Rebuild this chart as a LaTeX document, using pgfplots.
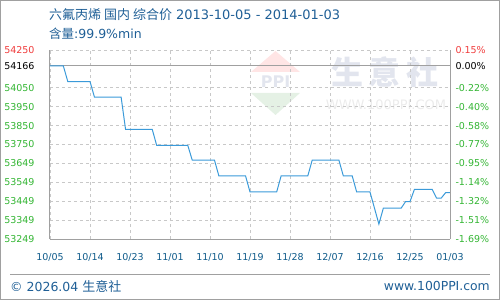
\documentclass[border=0pt]{standalone}
\usepackage{pgfplots}
\pgfplotsset{compat=1.18}
\usepackage{fontspec}
\setmainfont{DejaVu Sans}
\newfontfamily\cjk{Noto Sans CJK SC}
\definecolor{tg}{HTML}{33B533}
\definecolor{tr}{HTML}{F03C3C}
\definecolor{tblue}{HTML}{1F5F96}
\definecolor{xblue}{HTML}{0E5A8A}
\definecolor{lineblue}{HTML}{3A9AD9}
\definecolor{gridc}{HTML}{C8C8C8}
\definecolor{axc}{HTML}{A0A0A0}
\definecolor{wm}{HTML}{E2E5EE}
\begin{document}
\begin{tikzpicture}
\useasboundingbox (0,0) rectangle (500bp,300bp);
\draw[axc, line width=1bp] (0.5bp,0.5bp) rectangle (499.5bp,299.5bp);
% watermark
\fill[red!10] (251bp,228bp) -- (300bp,228bp) -- (275.5bp,249bp) -- cycle;
\fill[green!45!black!10] (251bp,207bp) -- (300bp,207bp) -- (275.5bp,185bp) -- cycle;
\node[text=wm, font=\fontsize{16bp}{16bp}\selectfont\bfseries] at (275.5bp,218bp) {PPI};
\node[text=wm, font=\fontsize{32bp}{32bp}\selectfont\cjk\bfseries] at (385bp,228bp) {生\,意\,社};
\node[text=black!8, font=\fontsize{13bp}{13bp}\selectfont] at (386bp,195bp) {WWW.100PPI.COM};
% titles
\node[anchor=west, inner sep=0, text=tblue, font=\fontsize{13bp}{14bp}\selectfont] at (49bp,285bp) {{\cjk\fontsize{13bp}{14bp}\selectfont 六氟丙烯 国内 综合价} 2013-10-05 - 2014-01-03};
\node[anchor=west, inner sep=0, text=tblue, font=\fontsize{12.5bp}{14bp}\selectfont] at (49bp,266bp) {{\cjk\fontsize{12.5bp}{14bp}\selectfont 含量}:99.9\%min};
% footer
\draw[axc, line width=1bp] (10bp,25bp) -- (490bp,25bp);
\node[anchor=west, inner sep=0, text=tblue, font=\fontsize{12.5bp}{14bp}\selectfont] at (10bp,14bp) {© 2026.04 {\cjk\fontsize{13bp}{14bp}\selectfont 生意社}};
\node[anchor=east, inner sep=0, text=tblue, font=\fontsize{12.4bp}{14bp}\selectfont] at (490bp,14bp) {www.100PPI.com};
\begin{axis}[
  at={(50bp,61bp)}, anchor=south west,
  scale only axis, width=400bp, height=189bp,
  xmin=0, xmax=90, ymin=53249, ymax=54250,
  scaled y ticks=false, scaled x ticks=false,
  axis x line*=bottom, axis y line*=left,
  axis line style={draw=axc, line width=1bp, -},
  xtick={0,9,...,90},
  xticklabels={10/05,10/14,10/23,11/01,11/10,11/19,11/28,12/07,12/16,12/25,01/03},
  ytick={53249,53349.1,53449.2,53549.3,53649.4,53749.5,53849.6,53949.7,54049.8,54166,54250},
  yticklabels={53249,53349,53449,53549,53649,53750,53850,53950,54050,\textcolor{black}{54166},\textcolor{tr}{54250}},
  major tick length=0pt,
  xticklabel style={text=xblue, font=\fontsize{9.5bp}{10bp}\selectfont, yshift=-11bp},
  yticklabel style={text=tg, font=\fontsize{9.5bp}{10bp}\selectfont, xshift=-12bp},
  grid=major,
  major grid style={gridc, dashed, line width=0.8bp},
  clip=false,
]
\addplot[axc, line width=1bp] coordinates {(0,54166) (90,54166)};
\addplot[lineblue, line width=1bp] coordinates {
(0,54166) (3,54166) (4,54083) (9,54083) (10,54001) (16,54001) (17,53830) (23,53830)
(24,53745) (31,53745) (32,53667) (37,53667) (38,53583) (44,53583) (45,53498) (51,53498)
(52,53583) (58,53583) (59,53667) (65,53667) (66,53583) (68,53583) (69,53498) (72,53498)
(74,53328) (75,53412) (79,53412) (80,53447) (81,53447) (82,53512) (86,53512) (87,53465)
(88,53465) (89,53494) (90,53494)};
\end{axis}
\begin{axis}[
  at={(50bp,61bp)}, anchor=south west,
  scale only axis, width=400bp, height=189bp,
  xmin=0, xmax=90, ymin=53249, ymax=54250,
  scaled y ticks=false,
  axis x line=none, axis y line*=right,
  axis line style={draw=axc, line width=1bp, -},
  ytick={53249,53349.1,53449.2,53549.3,53649.4,53749.5,53849.6,53949.7,54049.8,54166,54250},
  yticklabels={-1.69\%,-1.51\%,-1.32\%,-1.14\%,-0.95\%,-0.77\%,-0.58\%,-0.40\%,-0.22\%,\textcolor{black}{0.00\%},\textcolor{tr}{0.15\%}},
  major tick length=0pt,
  yticklabel style={text=tg, font=\fontsize{9.5bp}{10bp}\selectfont, xshift=2bp},
]
\addplot[draw=none] coordinates {(0,54166)};
\end{axis}
\end{tikzpicture}
\end{document}
